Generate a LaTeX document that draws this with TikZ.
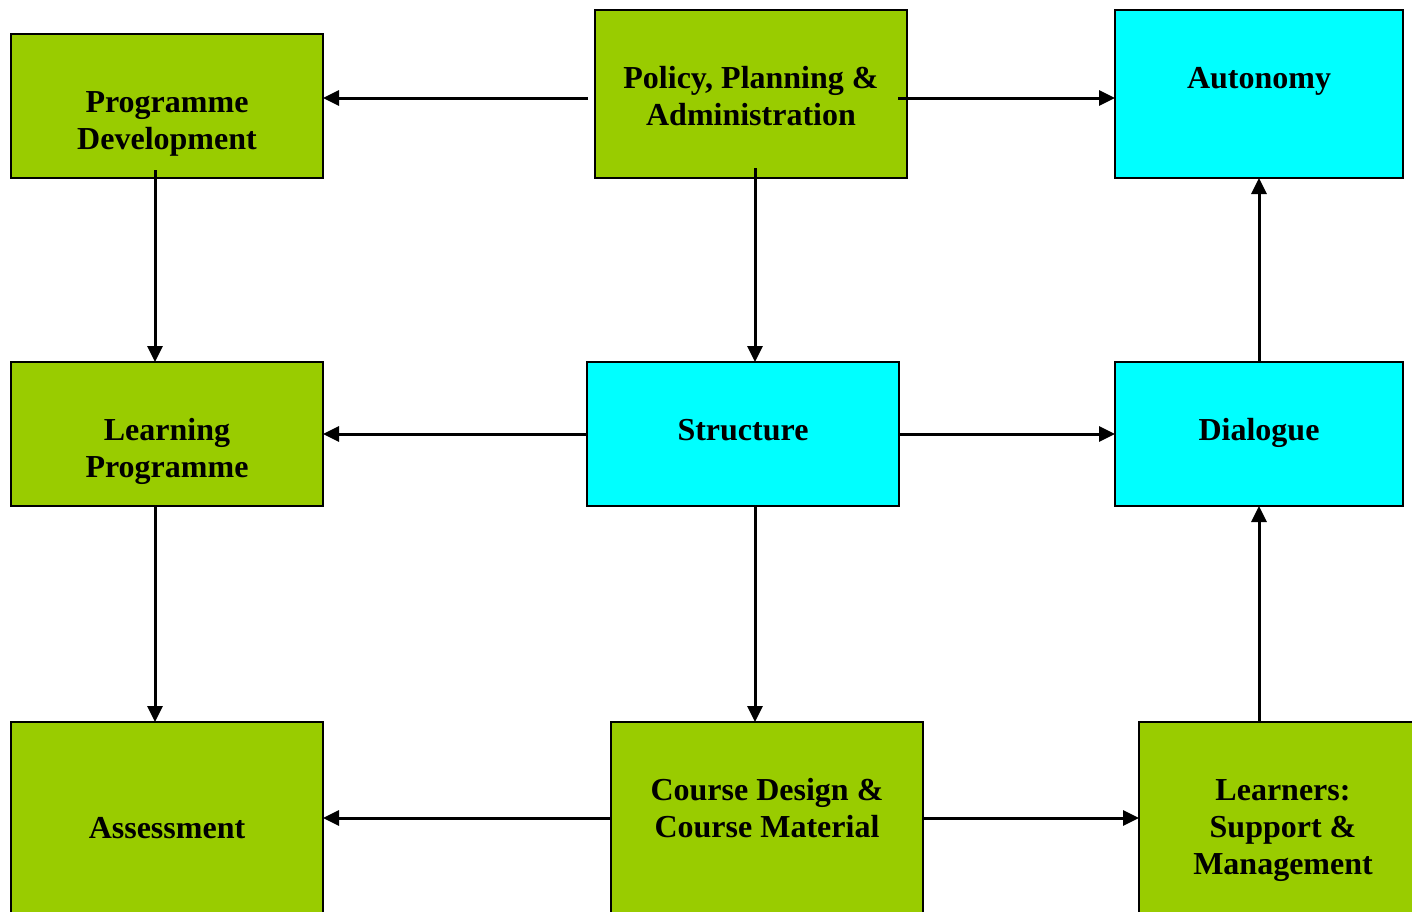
\documentclass[tikz,border=0pt]{standalone}
\usepackage{fontspec}
\setmainfont{Liberation Serif}
\usetikzlibrary{arrows.meta}
\definecolor{boxgreen}{HTML}{99CC00}
\definecolor{boxcyan}{HTML}{00FFFF}
\tikzset{greenbox/.style = {shape=rectangle,draw,line width=1pt,fill=boxgreen,inner sep=0pt,outer sep=0pt}}
\tikzset{cyanbox/.style = {greenbox,fill=boxcyan}}
\tikzset{wide/.style = {minimum width=156pt}}
\tikzset{narrow/.style = {minimum width=144pt}}
\tikzset{lbl/.style = {align=center,anchor=base,inner sep=0pt,font=\bfseries\fontsize{16}{18.5}\selectfont}}
\tikzset{flow/.style = {-{Triangle[length=8pt,width=7.5pt]},line width=1.5pt}}

\begin{document}
\begin{tikzpicture}[x=0.5pt,y=-0.5pt]
          \clip (0,0) rectangle (1412,911);
          % boxes
          \node[greenbox,wide,minimum height=72pt] (pd) at (167,106) {};
          \node[greenbox,wide,minimum height=84pt] (pol) at (751,94) {};
          \node[cyanbox,narrow,minimum height=84pt] (aut) at (1259,94) {};
          \node[greenbox,wide,minimum height=72pt] (lp) at (167,434) {};
          \node[cyanbox,wide,minimum height=72pt] (str) at (743,434) {};
          \node[cyanbox,narrow,minimum height=72pt] (dia) at (1259,434) {};
          \node[greenbox,wide,minimum height=104pt] (ass) at (167,826) {};
          \node[greenbox,wide,minimum height=104pt] (cd) at (767,826) {};
          \node[greenbox,narrow,minimum height=104pt] (lrn) at (1283,826) {};

          % texts (base = last line)
          \node[lbl] (pdtxt) at ([yshift=-57.5pt]pd.north) {Programme\\Development};
          \node[lbl] (poltxt) at ([yshift=-57.5pt]pol.north) {Policy, Planning \&\\Administration};
          \node[lbl] (auttxt) at ([yshift=-39pt]aut.north) {Autonomy};
          \node[lbl] (lptxt) at ([yshift=-57.5pt]lp.north) {Learning\\Programme};
          \node[lbl] (strtxt) at ([yshift=-39pt]str.north) {Structure};
          \node[lbl] (diatxt) at ([yshift=-39pt]dia.north) {Dialogue};
          \node[lbl] (asstxt) at ([yshift=-58pt]ass.north) {Assessment};
          \node[lbl] (cdtxt) at ([yshift=-57.5pt]cd.north) {Course Design \&\\Course Material};
          \node[lbl] (lrntxt) at ([yshift=-76pt]lrn.north) {Learners:\\Support \&\\Management};

          % connectors
          \path[flow] ([yshift=-2pt]pol.west) edge[shorten <=3.5pt] ([yshift=4pt]pd.east);
          \path[flow] ([yshift=-2pt]pol.east) edge[shorten <=-4.5pt] ([yshift=-2pt]aut.west);
          \path[flow] ([xshift=-6pt]pd.south) edge[shorten <=-4pt] ([xshift=-6pt]lp.north);
          \path[flow] ([xshift=2pt]pol.south) edge[shorten <=-5pt] ([xshift=6pt]str.north);
          \path[flow] (str.west) edge (lp.east);
          \path[flow] (str.east) edge (dia.west);
          \path[flow] (dia.north) edge (aut.south);
          \path[flow] ([xshift=-6pt]lp.south) edge ([xshift=-6pt]ass.north);
          \path[flow] ([xshift=6pt]str.south) edge ([xshift=-6pt]cd.north);
          \path[flow] ([yshift=4pt]cd.west) edge ([yshift=4pt]ass.east);
          \path[flow] ([yshift=4pt]cd.east) edge ([yshift=4pt]lrn.west);
          \path[flow] ([xshift=-12pt]lrn.north) edge (dia.south);
        \end{tikzpicture}
\end{document}
